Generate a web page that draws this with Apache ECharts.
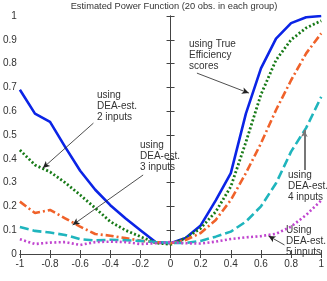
<!DOCTYPE html>
<html><head><meta charset="utf-8">
<script src="https://cdn.jsdelivr.net/npm/echarts@6/dist/echarts.min.js"></script>
<style>html,body{margin:0;padding:0;background:#fff}#c{width:327px;height:281px}</style>
</head><body><div id="c"></div>
<script>
const xs = [-1,-0.9,-0.8,-0.7,-0.6,-0.5,-0.4,-0.3,-0.2,-0.1,0,0.1,0.2,0.3,0.4,0.5,0.6,0.7,0.8,0.9,1];
const trueEff = [0.69,0.59,0.555,0.45,0.35,0.27,0.205,0.15,0.10,0.05,0.045,0.067,0.12,0.225,0.34,0.59,0.78,0.905,0.97,0.995,1.0];
const dea2 = [0.437,0.374,0.345,0.30,0.248,0.193,0.136,0.10,0.073,0.047,0.04,0.067,0.108,0.178,0.283,0.47,0.67,0.815,0.90,0.95,0.98];
const dea3 = [0.22,0.172,0.185,0.15,0.115,0.084,0.077,0.067,0.056,0.05,0.045,0.059,0.088,0.143,0.227,0.34,0.465,0.605,0.73,0.843,0.927];
const dea4 = [0.113,0.097,0.09,0.08,0.062,0.057,0.06,0.058,0.055,0.05,0.047,0.046,0.055,0.073,0.094,0.136,0.20,0.297,0.43,0.53,0.66];
const dea5 = [0.062,0.042,0.048,0.05,0.038,0.05,0.052,0.05,0.042,0.045,0.05,0.045,0.044,0.052,0.063,0.07,0.075,0.085,0.115,0.164,0.225];
const xTicks = [-1,-0.8,-0.6,-0.4,-0.2,0,0.2,0.4,0.6,0.8,1];
const yTicks = [0,0.1,0.2,0.3,0.4,0.5,0.6,0.7,0.8,0.9,1];
const title = 'Estimated Power Function (20 obs. in each group)';
const notes = [
  {lines:['using True','Efficiency','scores'], x:189, y:39, from:[0.175,0.76], to:[0.52,0.676]},
  {lines:['using','DEA-est.','2 inputs'], x:97, y:90, from:[-0.512,0.55], to:[-0.848,0.361]},
  {lines:['using','DEA-est.','3 inputs'], x:140, y:140, from:[-0.182,0.332], to:[-0.65,0.122]},
  {lines:['using','DEA-est.','4 inputs'], x:288, y:170, from:[0.888,0.353], to:[0.888,0.521]},
  {lines:['Using','DEA-est.','5 inputs'], x:286, y:225, from:[0.756,0.038], to:[0.65,0.076]}
];

const font = 'Liberation Sans, Arial, sans-serif';
const chart = echarts.init(document.getElementById('c'));
const mk = (arr)=>xs.map((x,i)=>[x,arr[i]]);
const axisCommon = {
  type:'value', splitLine:{show:false},
  axisLine:{show:true,lineStyle:{color:'#444',width:1}},
  axisTick:{show:true,inside:true,length:4,lineStyle:{color:'#444'}},
};
const series = [
  {data:mk(trueEff), color:'#0b24e6', ls:{width:2.6,type:'solid'}},
  {data:mk(dea2), color:'#177a17', ls:{width:2.8,type:[2,2.2]}},
  {data:mk(dea3), color:'#f0622a', ls:{width:2.6,type:[8,3,2,3]}},
  {data:mk(dea4), color:'#1fb5bd', ls:{width:2.6,type:[9,4]}},
  {data:mk(dea5), color:'#c045cf', ls:{width:2.6,type:[2,2.4]}}
].map(s=>({type:'line', data:s.data, showSymbol:false, symbol:'none', animation:false,
  lineStyle:Object.assign({color:s.color},s.ls), itemStyle:{color:s.color}}));

series.push({type:'line', data:[], animation:false,
  markLine:{silent:true, animation:false, symbol:['none','arrow'], symbolSize:[5,7], label:{show:false},
    lineStyle:{color:'#222',width:0.8,type:'solid'},
    data:notes.map((n,i)=>[{coord:n.from, lineStyle: i===3?{color:'#777',width:2}:undefined},{coord:n.to}])}});

const graphics = [{type:'text', x:174, y:2, style:{text:title, font:'9.3px '+font, fill:'#333', textAlign:'center'}}];
notes.forEach(n=>graphics.push({type:'text', x:n.x, y:n.y, style:{text:n.lines.join('\n'), font:'10px '+font, fill:'#333', lineHeight:11}}));

chart.setOption({
  animation:false,
  backgroundColor:'#fff',
  grid:{left:19,right:5,top:16,bottom:27,show:false},
  xAxis:[
    Object.assign({}, axisCommon, {min:-1,max:1,interval:0.2,position:'bottom',
      axisLabel:{color:'#333',fontSize:10,fontFamily:font,margin:5,formatter:v=>xTicks.includes(+v.toFixed(1))?String(+v.toFixed(1)):''}}),
    Object.assign({}, axisCommon, {min:-1,max:1,interval:0.2,position:'top',axisLabel:{show:false}})
  ],
  yAxis:[
    Object.assign({}, axisCommon, {min:0,max:1,interval:0.1,position:'left',
      axisLabel:{color:'#333',fontSize:10,fontFamily:font,margin:3,formatter:v=>yTicks.includes(+v.toFixed(1))?String(+v.toFixed(1)):''}}),
    Object.assign({}, axisCommon, {min:0,max:1,interval:0.1,position:'right',axisLabel:{show:false}})
  ],
  series:series,
  graphic:graphics
});
</script></body></html>
